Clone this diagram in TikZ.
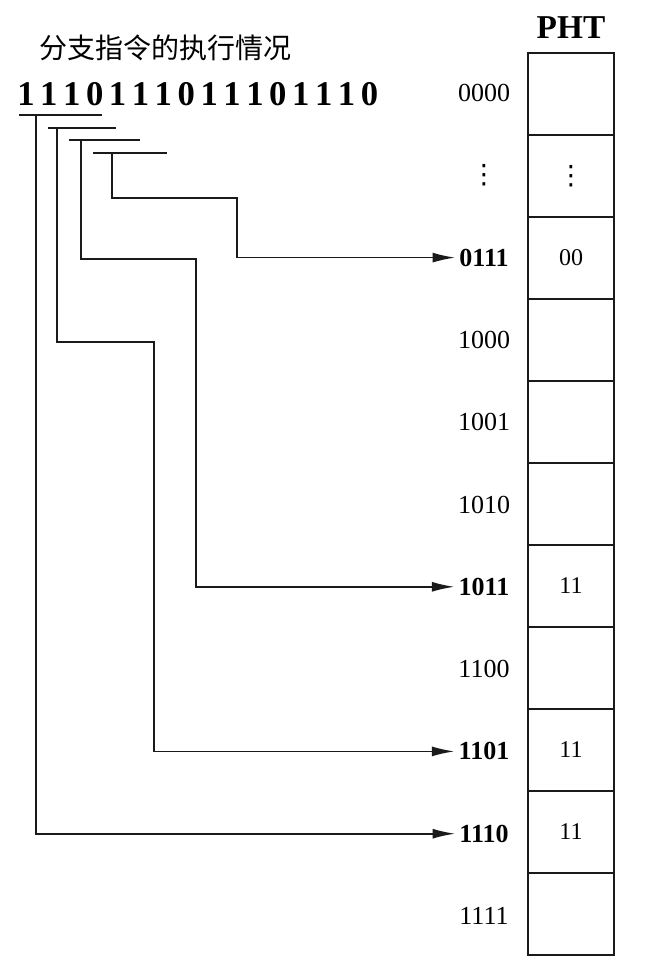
\documentclass[tikz,border=0pt]{standalone}
\usepackage{fontspec}
\setmainfont{Liberation Serif}
\newfontfamily\cjk{Noto Sans CJK SC}
\newfontfamily\symf{DejaVu Sans}
\usetikzlibrary{arrows.meta,calc,positioning}
\definecolor{ink}{HTML}{1A1A1A}
\tikzset{
  cellbox/.style={draw=ink,line width=1.2pt,minimum width=64.5pt,minimum height=61.5pt,inner sep=0pt,font=\fontsize{18}{18}\selectfont},
  addr/.style={inner sep=0pt,inner xsep=3pt},
  digit/.style={inner sep=0pt,font=\fontsize{26}{26}\selectfont\bfseries},
  link/.style={draw=ink,line width=1.2pt,-{Latex[length=17pt,width=7.5pt]}},
  bar/.style={draw=ink,line width=1.2pt},
}
\newcommand{\rowdots}{{\symf\fontsize{20}{20}\selectfont ⋮}}

\begin{document}
\begin{tikzpicture}[x=0.75pt,y=-0.75pt]
\useasboundingbox (0,0) rectangle (663,968);
% history string and title
\node[font=\cjk\fontsize{21}{21}\selectfont] (title) at (166,48) {分支指令的执行情况};
\foreach \b [count=\k] in {1,1,1,0,1,1,1,0,1,1,1,0,1,1,1,0}
  \node[digit] (d\k) at ({26+22.9*(\k-1)},94) {\b};
% PHT table
\node[font=\fontsize{25}{25}\selectfont\bfseries] (pht) at (571,28) {PHT};
\foreach \a/\v/\w [count=\i from 0] in {0000//\mdseries, \rowdots/\rowdots/\mdseries, 0111/00/\bfseries, 1000//\mdseries, 1001//\mdseries, 1010//\mdseries, 1011/11/\bfseries, 1100//\mdseries, 1101/11/\bfseries, 1110/11/\bfseries, 1111//\mdseries} {
  \node[cellbox] (cell\i) at (571,{94+82*\i}) {\v};
  \node[addr,font=\fontsize{19.5}{19.5}\selectfont\w] (lab\i) at (484,{93+82.3*\i}) {\a};
}
% 4-bit windows
\foreach \k/\xa/\xb/\xv/\yy in {1/19/102/36/115, 2/48/116/57/128, 3/69/140/81/140, 4/93/167/112/153} {
  \draw[bar] (\xa,\yy) -- (\xb,\yy);
  \coordinate (b\k) at (\xv,\yy);
}
\draw[link] (b4) |- (237,198) |- (lab2.west);
\draw[link] (b3) |- (196,259) |- (lab6.west);
\draw[link] (b2) |- (154,342) |- (lab8.west);
\draw[link] (b1) |- (lab9.west);
\end{tikzpicture}
\end{document}
